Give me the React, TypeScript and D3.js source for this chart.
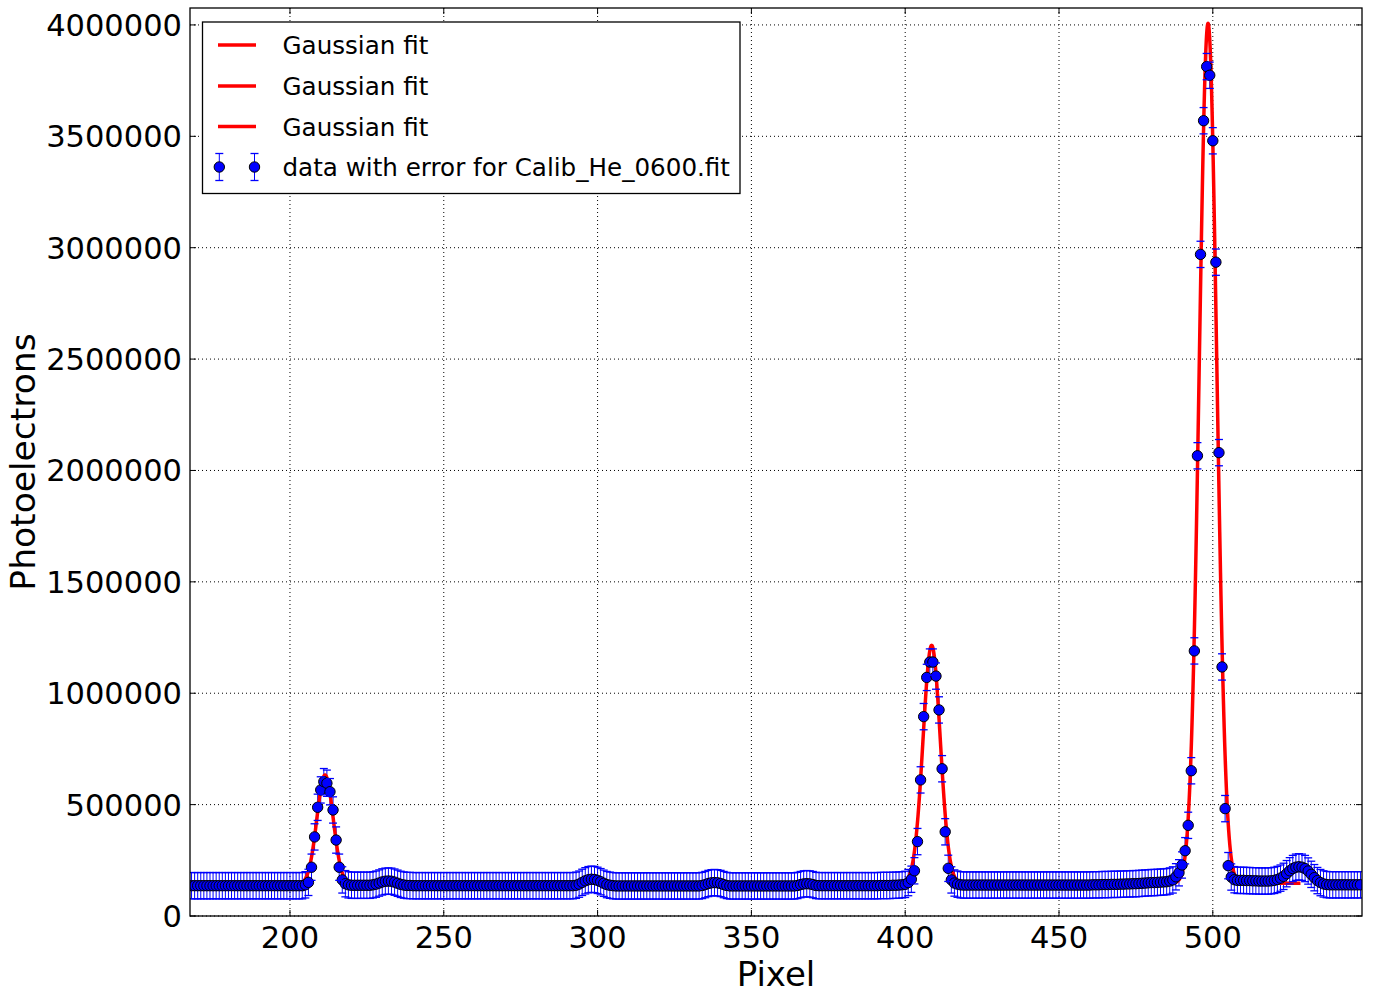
import React from 'react';
import * as d3 from 'd3';

// ---------- data ----------
const pixelStart = 168;
// photoelectrons per pixel, pixels 168 .. 548
const photoelectrons: number[] = [
  136000,136000,136000,136000,136000,136000,136000,136000,136000,136000, // 168
  136000,136000,136000,136000,136000,136000,136000,136000,136000,136000, // 178
  136000,136000,136000,136000,136000,136000,136000,136000,136000,136000, // 188
  136000,136000,136000,136000,136000,136000,136000,140000,151000,219000, // 198
  355000,488000,566000,603000,596000,558000,476000,341000,219000,162000, // 208
  145000,140000,138000,138000,138000,138000,138000,138000,138000,140000, // 218
  143000,148000,153000,156000,157000,156000,152000,147000,142000,139000, // 228
  137000,137000,136000,136000,136000,136000,136000,136000,136000,136000, // 238
  136000,136000,136000,136000,136000,136000,136000,136000,136000,136000, // 248
  136000,136000,136000,136000,136000,136000,136000,136000,136000,136000, // 258
  136000,136000,136000,136000,136000,136000,136000,136000,136000,136000, // 268
  136000,136000,136000,136000,136000,136000,136000,136000,136000,136000, // 278
  136000,136000,136000,136000,136000,138000,143000,151000,158000,163000, // 288
  165000,164000,160000,154000,147000,141000,138000,136000,135000,135000, // 298
  135000,135000,135000,135000,135000,135000,135000,135000,135000,135000, // 308
  135000,135000,135000,135000,135000,135000,135000,135000,135000,135000, // 318
  135000,135000,135000,135000,135000,135000,137000,141000,146000,149000, // 328
  150000,149000,146000,141000,137000,135000,135000,135000,135000,135000, // 338
  135000,135000,135000,135000,135000,135000,135000,135000,135000,135000, // 348
  135000,135000,135000,135000,135000,135000,135000,137000,141000,144000, // 358
  145000,144000,141000,137000,136000,136000,136000,136000,136000,136000, // 368
  136000,136000,136000,136000,136000,136000,136000,136000,136000,136000, // 378
  136000,136000,136000,136000,137000,137000,137000,137000,138000,138000, // 388
  139000,140000,142000,150000,165000,203000,334000,611000,895000,1071000, // 398
  1140000,1140000,1077000,925000,661000,378000,214000,162000,148000,143000, // 408
  140000,139000,139000,139000,139000,139000,139000,139000,139000,139000, // 418
  139000,139000,139000,139000,139000,139000,139000,139000,139000,139000, // 428
  139000,139000,139000,139000,139000,139000,139000,139000,139000,139000, // 438
  139000,139000,139000,139000,139000,139000,139000,139000,139000,139000, // 448
  139000,139000,139000,140000,140000,140000,141000,141000,141000,142000, // 458
  142000,142000,143000,143000,144000,144000,145000,145000,146000,147000, // 468
  148000,149000,150000,150000,151000,152000,153000,154000,157000,162000, // 478
  176000,194000,229000,293000,407000,652000,1190000,2066000,2970000,3570000, // 488
  3813000,3774000,3480000,2935000,2080000,1118000,482000,226000,175000,163000, // 498
  160000,160000,160000,159000,159000,158000,158000,157000,157000,157000, // 508
  157000,158000,160000,164000,170000,178000,190000,203000,213000,219000, // 518
  221000,219000,213000,202000,187000,172000,159000,150000,144000,141000, // 528
  140000,140000,140000,140000,140000,140000,140000,140000,140000,140000, // 538
  140000, // 548
];
const errorBar = 59000;

// Gaussian fit parameters
const fitLabels = ['Gaussian fit', 'Gaussian fit', 'Gaussian fit'];
const fitCenters = [211.4, 408.6, 498.45];
const fitAmplitudes = [493000, 1070000, 3860000];
const fitSigmas = [2.65, 2.8, 2.84];
const fitOffsets = [140000, 145000, 147000];
const fitStarts = [196, 394, 468];
const fitEnds = [226, 424, 528.5];

const dataLabel = 'data with error for Calib_He_0600.fit';
const xTicks = [200, 250, 300, 350, 400, 450, 500];
const yTicks = [0, 500000, 1000000, 1500000, 2000000, 2500000, 3000000, 3500000, 4000000];
const xDomain = [167.5, 548.5];
const yDomain = [0, 4076000];
const xLabel = 'Pixel';
const yLabel = 'Photoelectrons';

// ---------- layout ----------
const W = 1378;
const H = 996;
const left = 190;
const right = 1362;
const top = 8;
const bottom = 916;
const FONT = '"DejaVu Sans", sans-serif';

export default function App() {
  const x = d3.scaleLinear().domain(xDomain).range([left, right]);
  const y = d3.scaleLinear().domain(yDomain).range([bottom, top]);

  const points = photoelectrons.map((v, i) => ({ px: pixelStart + i, v }));

  const fitPaths = fitCenters.map((c, k) => {
    const xs = d3.range(fitStarts[k], fitEnds[k] + 0.001, 0.05);
    const line = d3
      .line<number>()
      .x((p) => x(p))
      .y((p) =>
        y(fitOffsets[k] + fitAmplitudes[k] * Math.exp(-((p - c) ** 2) / (2 * fitSigmas[k] ** 2)))
      );
    return line(xs) || '';
  });

  const cap = 4;
  const tickLen = 6;
  const mr = 5.2;

  const legendX = 202.5;
  const legendY = 22;
  const legendW = 537.5;
  const legendH = 171.5;
  const rowY = [45, 86, 126.5, 167];

  return (
    <svg
      width={W}
      height={H}
      style={{ position: 'absolute', left: 0, top: 0, background: '#fff' }}
      xmlns="http://www.w3.org/2000/svg"
    >
      <defs>
        <clipPath id="plotClip">
          <rect x={left} y={top} width={right - left} height={bottom - top} />
        </clipPath>
      </defs>
      <rect x={0} y={0} width={W} height={H} fill="#fff" />

      {/* grid */}
      <g stroke="#000" strokeWidth={1} strokeDasharray="1,3">
        {xTicks.map((t) => (
          <line key={'gx' + t} x1={x(t)} x2={x(t)} y1={top} y2={bottom} />
        ))}
        {yTicks.map((t) => (
          <line key={'gy' + t} x1={left} x2={right} y1={y(t)} y2={y(t)} />
        ))}
      </g>

      <g clipPath="url(#plotClip)">
        {/* error bar verticals */}
        <g stroke="#0000ff" strokeWidth={1}>
          {points.map((p) => (
            <line
              key={'eb' + p.px}
              x1={x(p.px)}
              x2={x(p.px)}
              y1={y(p.v - errorBar)}
              y2={y(p.v + errorBar)}
            />
          ))}
        </g>
        {/* Gaussian fits */}
        {fitPaths.map((d, k) => (
          <path key={'fit' + k} d={d} fill="none" stroke="#ff0000" strokeWidth={3.5} strokeLinejoin="round" />
        ))}
        {/* markers */}
        <g fill="#0000ff" stroke="#000" strokeWidth={1}>
          {points.map((p) => (
            <circle key={'m' + p.px} cx={x(p.px)} cy={y(p.v)} r={mr} />
          ))}
        </g>
        {/* caps */}
        <g stroke="#0000ff" strokeWidth={1.3}>
          {points.map((p) => (
            <g key={'cap' + p.px}>
              <line x1={x(p.px) - cap} x2={x(p.px) + cap} y1={y(p.v - errorBar)} y2={y(p.v - errorBar)} />
              <line x1={x(p.px) - cap} x2={x(p.px) + cap} y1={y(p.v + errorBar)} y2={y(p.v + errorBar)} />
            </g>
          ))}
        </g>
      </g>

      {/* ticks, inside on all four sides */}
      <g stroke="#000" strokeWidth={1}>
        {xTicks.map((t) => (
          <g key={'tx' + t}>
            <line x1={x(t)} x2={x(t)} y1={bottom} y2={bottom - tickLen} />
            <line x1={x(t)} x2={x(t)} y1={top} y2={top + tickLen} />
          </g>
        ))}
        {yTicks.map((t) => (
          <g key={'ty' + t}>
            <line x1={left} x2={left + tickLen} y1={y(t)} y2={y(t)} />
            <line x1={right} x2={right - tickLen} y1={y(t)} y2={y(t)} />
          </g>
        ))}
      </g>

      {/* frame */}
      <rect x={left} y={top} width={right - left} height={bottom - top} fill="none" stroke="#000" strokeWidth={1.3} />

      {/* tick labels */}
      <g fontFamily={FONT} fontSize={30.5} fill="#000">
        {xTicks.map((t) => (
          <text key={'lx' + t} x={x(t)} y={947.5} textAnchor="middle">
            {t}
          </text>
        ))}
        {yTicks.map((t) => (
          <text key={'ly' + t} x={182} y={y(t) + 11} textAnchor="end">
            {t}
          </text>
        ))}
      </g>

      {/* axis labels */}
      <text x={(left + right) / 2} y={986} textAnchor="middle" fontFamily={FONT} fontSize={34} fill="#000">
        {xLabel}
      </text>
      <text
        transform={`translate(35, ${(top + bottom) / 2}) rotate(-90)`}
        textAnchor="middle"
        fontFamily={FONT}
        fontSize={34.5}
        fill="#000"
      >
        {yLabel}
      </text>

      {/* legend */}
      <g>
        <rect x={legendX} y={legendY} width={legendW} height={legendH} fill="#fff" stroke="#000" strokeWidth={1.3} />
        {fitLabels.map((lab, k) => (
          <g key={'leg' + k}>
            <line x1={218} x2={256} y1={rowY[k]} y2={rowY[k]} stroke="#ff0000" strokeWidth={3.5} />
            <text x={282.5} y={rowY[k] + 9} fontFamily={FONT} fontSize={24.6} fill="#000">
              {lab}
            </text>
          </g>
        ))}
        {[219.3, 254.5].map((lx) => (
          <g key={'lm' + lx}>
            <line x1={lx} x2={lx} y1={rowY[3] - 13.5} y2={rowY[3] + 13.5} stroke="#0000ff" strokeWidth={1} />
            <line x1={lx - cap} x2={lx + cap} y1={rowY[3] - 13.5} y2={rowY[3] - 13.5} stroke="#0000ff" strokeWidth={1.3} />
            <line x1={lx - cap} x2={lx + cap} y1={rowY[3] + 13.5} y2={rowY[3] + 13.5} stroke="#0000ff" strokeWidth={1.3} />
            <circle cx={lx} cy={rowY[3]} r={mr} fill="#0000ff" stroke="#000" strokeWidth={1} />
          </g>
        ))}
        <text x={282.5} y={rowY[3] + 9} fontFamily={FONT} fontSize={24.6} fill="#000">
          {dataLabel}
        </text>
      </g>
    </svg>
  );
}
